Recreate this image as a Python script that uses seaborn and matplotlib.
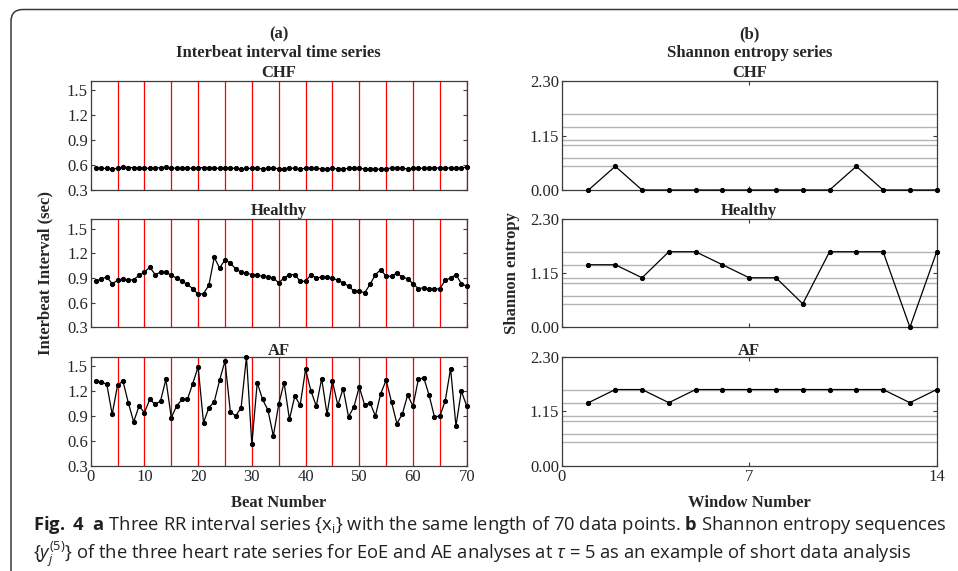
import pandas as pd
import seaborn as sns
import matplotlib.pyplot as plt
from matplotlib.patches import FancyBboxPatch

# RR interval series (sec), beats 1..70
beats = list(range(1, 71))
chf_rr = [0.56, 0.56, 0.56, 0.555, 0.56, 0.58, 0.57, 0.57, 0.565, 0.565,
          0.56, 0.56, 0.57, 0.575, 0.56, 0.565, 0.565, 0.565, 0.56, 0.565,
          0.57, 0.57, 0.565, 0.56, 0.56, 0.565, 0.56, 0.555, 0.56, 0.56,
          0.56, 0.555, 0.56, 0.565, 0.555, 0.555, 0.565, 0.56, 0.555, 0.56,
          0.56, 0.56, 0.555, 0.55, 0.56, 0.555, 0.555, 0.56, 0.565, 0.56,
          0.555, 0.555, 0.55, 0.55, 0.555, 0.565, 0.565, 0.56, 0.555, 0.56,
          0.565, 0.56, 0.56, 0.565, 0.565, 0.565, 0.565, 0.56, 0.565, 0.575]
healthy_rr = [0.86, 0.89, 0.91, 0.83, 0.87, 0.89, 0.87, 0.88, 0.93, 0.97,
              1.03, 0.94, 0.97, 0.97, 0.93, 0.90, 0.86, 0.82, 0.77, 0.70,
              0.71, 0.81, 1.15, 1.02, 1.12, 1.08, 1.01, 0.97, 0.96, 0.94,
              0.93, 0.92, 0.91, 0.90, 0.84, 0.90, 0.94, 0.94, 0.86, 0.86,
              0.94, 0.90, 0.91, 0.91, 0.90, 0.87, 0.84, 0.80, 0.74, 0.74,
              0.72, 0.82, 0.94, 1.00, 0.92, 0.92, 0.96, 0.91, 0.89, 0.83,
              0.77, 0.78, 0.76, 0.76, 0.77, 0.87, 0.90, 0.94, 0.83, 0.80]
af_rr = [1.32, 1.31, 1.28, 0.92, 1.27, 1.32, 1.06, 0.83, 1.02, 0.94,
         1.10, 1.04, 1.08, 1.34, 0.88, 1.02, 1.10, 1.10, 1.29, 1.49,
         0.82, 1.00, 1.07, 1.33, 1.56, 0.95, 0.90, 1.00, 1.61, 0.56,
         1.30, 1.10, 0.97, 0.66, 1.04, 1.30, 0.86, 1.14, 1.03, 1.46,
         1.20, 1.02, 1.35, 0.92, 1.32, 1.03, 1.23, 0.89, 1.01, 1.25,
         1.03, 1.06, 0.90, 1.17, 1.33, 1.07, 0.81, 0.92, 1.15, 1.02,
         1.34, 1.36, 1.15, 0.89, 0.90, 1.08, 1.47, 0.78, 1.20, 1.02]

# Shannon entropy per window of 5 beats
windows = list(range(1, 15))
chf_se = [0.0, 0.500, 0.0, 0.0, 0.0, 0.0, 0.0, 0.0, 0.0, 0.0, 0.500, 0.0, 0.0, 0.0]
healthy_se = [1.332, 1.332, 1.055, 1.609, 1.609, 1.332, 1.055, 1.055, 0.500,
              1.609, 1.609, 1.609, 0.0, 1.609]
af_se = [1.332, 1.609, 1.609, 1.332, 1.609, 1.609, 1.609, 1.609, 1.609,
         1.609, 1.609, 1.609, 1.332, 1.609]

entropy_levels = [0.500, 0.673, 0.950, 1.055, 1.332, 1.609]
window_edges = [5, 10, 15, 20, 25, 30, 35, 40, 45, 50, 55, 60, 65, 70]
group_names = ['CHF', 'Healthy', 'AF']

sns.set_style('ticks')
plt.rcParams['font.family'] = ['Liberation Serif', 'DejaVu Serif']
plt.rcParams['mathtext.fontset'] = 'custom'
plt.rcParams['mathtext.rm'] = 'Open Sans'
plt.rcParams['mathtext.it'] = 'Open Sans:italic'
plt.rcParams['mathtext.bf'] = 'Open Sans:bold'

W, H = 958, 571
fig = plt.figure(figsize=(W / 100, H / 100), dpi=100)


def px_axes(x0, y0, x1, y1):
    return fig.add_axes([x0 / W, 1 - y1 / H, (x1 - x0) / W, (y1 - y0) / H])


rows = [(81, 190), (219.3, 327.3), (356.7, 466)]
left_x = (90.7, 466.7)
right_x = (561.7, 936.7)
spine_col = '#3c3c3c'
fs = 12


def style_ax(ax, show_x):
    for s in ax.spines.values():
        s.set_color(spine_col)
        s.set_linewidth(0.9)
    ax.tick_params(direction='in', top=True, right=True, length=3,
                   color=spine_col, labelsize=fs, pad=2, width=0.8)
    if not show_x:
        ax.tick_params(labelbottom=False)
    ax.set_xlabel('')
    ax.set_ylabel('')


rr_series = [chf_rr, healthy_rr, af_rr]
se_series = [chf_se, healthy_se, af_se]

for i, (top, bot) in enumerate(rows):
    # left: interbeat interval
    ax = px_axes(left_x[0], top, left_x[1], bot)
    for xe in window_edges:
        ax.axvline(xe, color='red', lw=0.9, zorder=1)
    df = pd.DataFrame({'beat': beats, 'rr': rr_series[i]})
    sns.lineplot(data=df, x='beat', y='rr', ax=ax, color='black', lw=0.9,
                 marker='o', markersize=3, markeredgecolor='black',
                 clip_on=False, zorder=3)
    ax.set_xlim(0, 70)
    ax.set_ylim(0.3, 1.612)
    ax.set_xticks([0, 10, 20, 30, 40, 50, 60, 70])
    ax.set_yticks([0.3, 0.6, 0.9, 1.2, 1.5])
    ax.set_yticklabels(['0.3', '0.6', '0.9', '1.2', '1.5'])
    style_ax(ax, i == 2)
    ax.set_title(group_names[i], fontsize=fs, fontweight='bold', pad=1)

    # right: Shannon entropy
    ax2 = px_axes(right_x[0], top, right_x[1], bot)
    for lv in entropy_levels:
        ax2.axhline(lv, color='#b4b4b4', lw=1.0, zorder=1)
    df2 = pd.DataFrame({'window': windows, 'se': se_series[i]})
    sns.lineplot(data=df2, x='window', y='se', ax=ax2, color='black', lw=0.9,
                 marker='o', markersize=3, markeredgecolor='black',
                 clip_on=False, zorder=3)
    ax2.set_xlim(0, 14)
    ax2.set_ylim(0, 2.30)
    ax2.set_xticks([0, 7, 14])
    ax2.set_yticks([0, 1.15, 2.30])
    ax2.set_yticklabels(['0.00', '1.15', '2.30'])
    style_ax(ax2, i == 2)
    ax2.set_title(group_names[i], fontsize=fs, fontweight='bold', pad=1)

# headers and shared labels
for cx, head, sub in [((left_x[0] + left_x[1]) / 2, '(a)', 'Interbeat interval time series'),
                      ((right_x[0] + right_x[1]) / 2, '(b)', 'Shannon entropy series')]:
    fig.text(cx / W, 1 - 34 / H, head, ha='center', va='center',
             fontsize=fs, fontweight='bold')
    fig.text(cx / W, 1 - 53 / H, sub, ha='center', va='center',
             fontsize=fs, fontweight='bold')

fig.text((left_x[0] + left_x[1]) / 2 / W, 1 - 503 / H, 'Beat Number',
         ha='center', va='center', fontsize=fs, fontweight='bold')
fig.text((right_x[0] + right_x[1]) / 2 / W, 1 - 503 / H, 'Window Number',
         ha='center', va='center', fontsize=fs, fontweight='bold')
fig.text(45 / W, 1 - 273 / H, 'Interbeat Interval (sec)', rotation=90,
         ha='center', va='center', fontsize=fs, fontweight='bold')
fig.text(512 / W, 1 - 273 / H, 'Shannon entropy', rotation=90,
         ha='center', va='center', fontsize=fs, fontweight='bold')

# caption
cap_col = '#231f20'
line1 = (r'$\mathbf{Fig.\ 4}$  $\mathbf{a}$ Three RR interval series {x$_{\mathrm{i}}$} '
         r'with the same length of 70 data points. $\mathbf{b}$ Shannon entropy sequences')
line2 = (r'{$y_j^{(5)}$} of the three heart rate series for EoE and AE analyses '
         r'at $\tau$ = 5 as an example of short data analysis')
fig.text(33 / W, 1 - 525 / H, line1, ha='left', va='center', fontsize=13.25,
         color=cap_col, family='Open Sans')
fig.text(33 / W, 1 - 554 / H, line2, ha='left', va='center', fontsize=13.25,
         color=cap_col, family='Open Sans')

# rounded frame of the figure box
frame = FancyBboxPatch((11, -100), 1200, H - 9.5 + 100,
                       boxstyle='round,pad=0,rounding_size=12',
                       transform=None, fill=False, edgecolor='#3a3a3a',
                       lw=1.1, clip_on=False)
fig.add_artist(frame)

fig.savefig('out.png', dpi=100)
